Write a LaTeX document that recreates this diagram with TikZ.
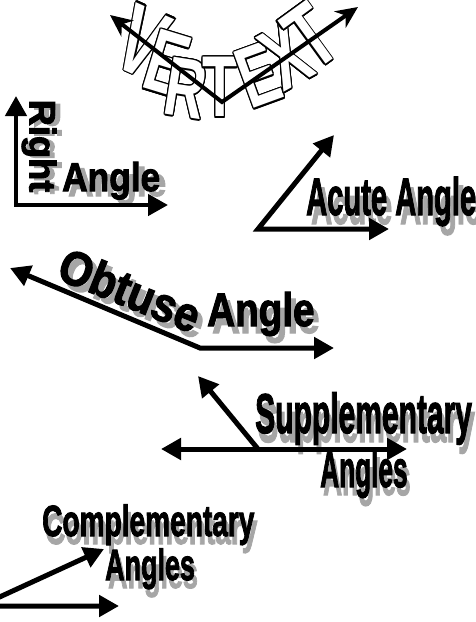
\documentclass[tikz,border=0pt]{standalone}
\usepackage{fontspec}
\usepackage{graphicx}
\usepackage{contour}
\usepackage{tikz}
\usetikzlibrary{arrows.meta}
\setmainfont{Liberation Sans}
\newfontfamily\heavyfont{Liberation Sans}[UprightFont={* Bold}, FakeBold=2.5]
\newfontfamily\letterfont{Liberation Sans}[UprightFont={* Bold}]
\contourlength{1.1pt}
\newcommand{\wa}[3]{\scalebox{#1}[1.12]{\fontsize{#2}{#2}\selectfont #3}}
\newcommand{\hollowletter}[2]{\scalebox{0.9}[1.35]{\fontsize{#1}{#1}\selectfont\contour{black}{#2}}}
\tikzset{
  wart/.style   = {inner sep=0pt, font=\heavyfont},
  shade/.style  = {wart, text=black!35},
  hollow/.style = {inner sep=0pt, font=\letterfont, text=white},
  ray/.style    = {line width=5pt, -{Triangle[length=20pt,width=21pt]}},
  rays/.style   = {line width=5pt, {Triangle[length=20pt,width=21pt]}-{Triangle[length=20pt,width=21pt]}},
  vrays/.style  = {line width=4pt, {Stealth[length=22pt,width=20pt,inset=7pt]}-{Stealth[length=22pt,width=20pt,inset=7pt]}},
}

\begin{document}
\begin{tikzpicture}[x=1pt, y=-1pt]
  \useasboundingbox (0,0) rectangle (476,622);

  % ----- vertex -----
  \node[hollow, rotate=-24] (vt1) at (142,42) {\hollowletter{72}{V}};
  \node[hollow, rotate=-17] (vt2) at (167,64) {\hollowletter{66}{E}};
  \node[hollow, rotate=-9]  (vt3) at (186,89) {\hollowletter{62}{R}};
  \node[hollow]             (vt4) at (220,88) {\hollowletter{64}{T}};
  \node[hollow, rotate=20]  (vt5) at (259,76) {\hollowletter{64}{E}};
  \node[hollow, rotate=29]  (vt6) at (286,57) {\hollowletter{66}{X}};
  \node[hollow, rotate=36]  (vt7) at (311,37) {\hollowletter{68}{T}};
  \coordinate (vt-o) at (222,102);
  \coordinate (vt-l) at (110,15);
  \coordinate (vt-r) at (358,7);
  \draw[vrays] (vt-l) -- (vt-o) -- (vt-r);

  % ----- right angle -----
  \node[shade, rotate=-90] (right-sh) at (44,148) {\wa{1.1}{33}{Right}};
  \node[shade, anchor=base west] (ra-txt-sh) at (68,196) {\wa{0.98}{36}{Angle}};
  \coordinate (ra-o) at (16,205);
  \coordinate (ra-up) at (16,96);
  \coordinate (ra-rt) at (168,205);
  \draw[rays, line width=4.5pt] (ra-up) -- (ra-o) -- (ra-rt);
  \node[wart, rotate=-90] (right) at (39,146) {\wa{1.1}{33}{Right}};
  \node[wart, anchor=base west] (ra-txt) at (62,191) {\wa{0.98}{36}{Angle}};

  % ----- acute angle -----
  \node[shade, anchor=base west] (acute-sh) at (311,224) {\wa{0.62}{47}{Acute Angle}};
  \coordinate (ac-o) at (258,229);
  \coordinate (ac-up) at (334,135);
  \coordinate (ac-rt) at (389,229);
  \draw[rays] (ac-up) -- (ac-o) -- (ac-rt);
  \node[wart, anchor=base west] (acute) at (306,215) {\wa{0.62}{47}{Acute Angle}};

  % ----- obtuse angle -----
  \node[shade, rotate=-22] (obtuse-sh) at (135,296) {\wa{1.0}{43}{Obtuse}};
  \node[shade, anchor=base west] (ob-txt-sh) at (212,333) {\wa{0.92}{42}{Angle}};
  \coordinate (ob-o) at (200,348);
  \coordinate (ob-l) at (10,268);
  \coordinate (ob-rt) at (334,348);
  \draw[rays] (ob-l) -- (ob-o) -- (ob-rt);
  \node[wart, rotate=-22] (obtuse) at (130,290) {\wa{1.0}{43}{Obtuse}};
  \node[wart, anchor=base west] (ob-txt) at (207,326) {\wa{0.92}{42}{Angle}};

  % ----- supplementary angles -----
  \node[shade, anchor=base west] (supp-sh) at (258,442) {\wa{0.6}{50}{Supplementary}};
  \node[shade, anchor=base west] (sp-txt-sh) at (323,495) {\wa{0.57}{46}{Angles}};
  \coordinate (sp-l) at (161,449);
  \coordinate (sp-rt) at (407,449);
  \coordinate (sp-o) at (258,449);
  \coordinate (sp-up) at (198,376);
  \draw[rays] (sp-l) -- (sp-rt);
  \draw[ray] (sp-o) -- (sp-up);
  \node[wart, anchor=base west] (supp) at (255,433) {\wa{0.6}{50}{Supplementary}};
  \node[wart, anchor=base west] (sp-txt) at (320,487) {\wa{0.57}{46}{Angles}};

  % ----- complementary angles -----
  \node[shade, anchor=base west] (comp-sh) at (45,544) {\wa{0.72}{39}{Complementary}};
  \node[shade, anchor=base west] (cp-txt-sh) at (108,588) {\wa{0.69}{39}{Angles}};
  \coordinate (cp-o) at (-20,606);
  \coordinate (cp-up) at (104,549);
  \coordinate (cp-rt) at (119,606);
  \draw[rays] (cp-up) -- (cp-o) -- (cp-rt);
  \node[wart, anchor=base west] (comp) at (42,536) {\wa{0.72}{39}{Complementary}};
  \node[wart, anchor=base west] (cp-txt) at (105,580) {\wa{0.69}{39}{Angles}};

\end{tikzpicture}
\end{document}
